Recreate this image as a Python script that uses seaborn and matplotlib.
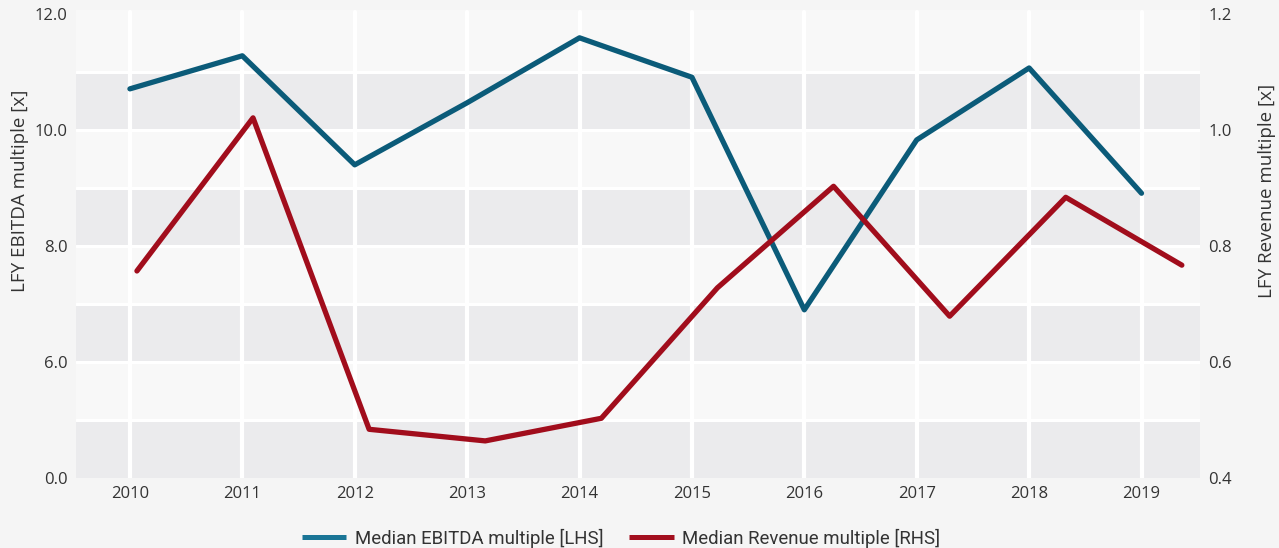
import matplotlib
matplotlib.use("Agg")
import matplotlib.pyplot as plt
import seaborn as sns
import pandas as pd

# Deal multiples by year
years = [2010, 2011, 2012, 2013, 2014, 2015, 2016, 2017, 2018, 2019]
ebitda_multiple = [10.71, 11.28, 9.40, 10.47, 11.59, 10.91, 6.90, 9.83, 11.07, 8.91]
revenue_multiple = [0.757, 1.021, 0.484, 0.464, 0.503, 0.728, 0.903, 0.679, 0.884, 0.767]

left_ticks = [4, 6, 8, 10, 12]
left_tick_labels = ["0.0", "6.0", "8.0", "10.0", "12.0"]
right_ticks = [0.4, 0.6, 0.8, 1.0, 1.2]
right_tick_labels = ["0.4", "0.6", "0.8", "1.0", "1.2"]

BLUE = "#0b5b79"
RED = "#a10d1c"
BLUE_KEY = "#1a7596"
RED_KEY = "#a30f1e"
BG = "#f5f5f5"
LIGHT = "#f8f8f8"
DARK = "#ebebed"
TEXT = "#333333"

sns.set_theme(style="white")
plt.rcParams["font.family"] = ["Open Sans", "DejaVu Sans"]

df_e = pd.DataFrame({"year": years, "value": ebitda_multiple})
df_r = pd.DataFrame({"year": years, "value": revenue_multiple})

fig = plt.figure(figsize=(12.79, 5.48), dpi=100, facecolor=BG)
ax = fig.add_axes([0.0594, 0.1277, 0.8788, 0.8541])
ax.set_facecolor(LIGHT)

ax.set_xlim(2009.52, 2019.52)
ax.set_ylim(4, 12.07)

# alternating horizontal bands with white separators
for lo in range(4, 11, 2):
    ax.axhspan(lo, lo + 1, color=DARK, lw=0, zorder=0)
for y in range(5, 12):
    ax.axhline(y, color="white", lw=2.2, zorder=0.5)
for yr in years:
    ax.axvline(yr, ymax=0.995, color="white", lw=3, zorder=0.6)

sns.lineplot(data=df_e, x="year", y="value", ax=ax, color=BLUE, lw=3.8,
             label="Median EBITDA multiple [LHS]", legend=False, zorder=3)

ax.set_yticks(left_ticks)
ax.set_yticklabels(left_tick_labels)
ax.set_xticks(years)
ax.set_xticklabels([str(y) for y in years])
ax.tick_params(axis="both", length=0, labelsize=12, labelcolor=TEXT, pad=6)
ax.set_xlabel("")
ax.set_ylabel("LFY EBITDA multiple [x]", fontsize=13.5, color=TEXT, labelpad=4)
ax.yaxis.label.set_y(0.613)
for s in ax.spines.values():
    s.set_visible(False)

# revenue series on an overlaid axes with its own scale on the right
ax2 = fig.add_axes(ax.get_position())
ax2.patch.set_visible(False)
ax2.set_xlim(2009.475, 2019.156)
ax2.set_ylim(0.4, 1.207)
sns.lineplot(data=df_r, x="year", y="value", ax=ax2, color=RED, lw=3.8,
             label="Median Revenue multiple [RHS]", legend=False, zorder=3)
ax2.set_xticks([])
ax2.set_xlabel("")
ax2.yaxis.tick_right()
ax2.yaxis.set_label_position("right")
ax2.set_yticks(right_ticks)
ax2.set_yticklabels(right_tick_labels)
ax2.tick_params(axis="y", length=0, labelsize=12, labelcolor=TEXT, pad=6)
ax2.set_ylabel("LFY Revenue multiple [x]", fontsize=13.5, color=TEXT, labelpad=19)
ax2.yaxis.label.set_y(0.613)
for s in ax2.spines.values():
    s.set_visible(False)

h1, l1 = ax.get_legend_handles_labels()
h2, l2 = ax2.get_legend_handles_labels()
leg = fig.legend(h1 + h2, l1 + l2, loc="center", bbox_to_anchor=(0.4855, 0.018),
                 ncol=2, frameon=False, handlelength=2.4, columnspacing=1.4,
                 handletextpad=0.45,
                 prop={"family": ["Roboto", "DejaVu Sans"], "size": 13.4})
for t in leg.get_texts():
    t.set_color(TEXT)
for h, c in zip(leg.legend_handles, [BLUE_KEY, RED_KEY]):
    h.set_color(c)
    h.set_linewidth(3.6)
    h.set_solid_capstyle("butt")

fig.savefig("out.png", dpi=100, facecolor=BG)
